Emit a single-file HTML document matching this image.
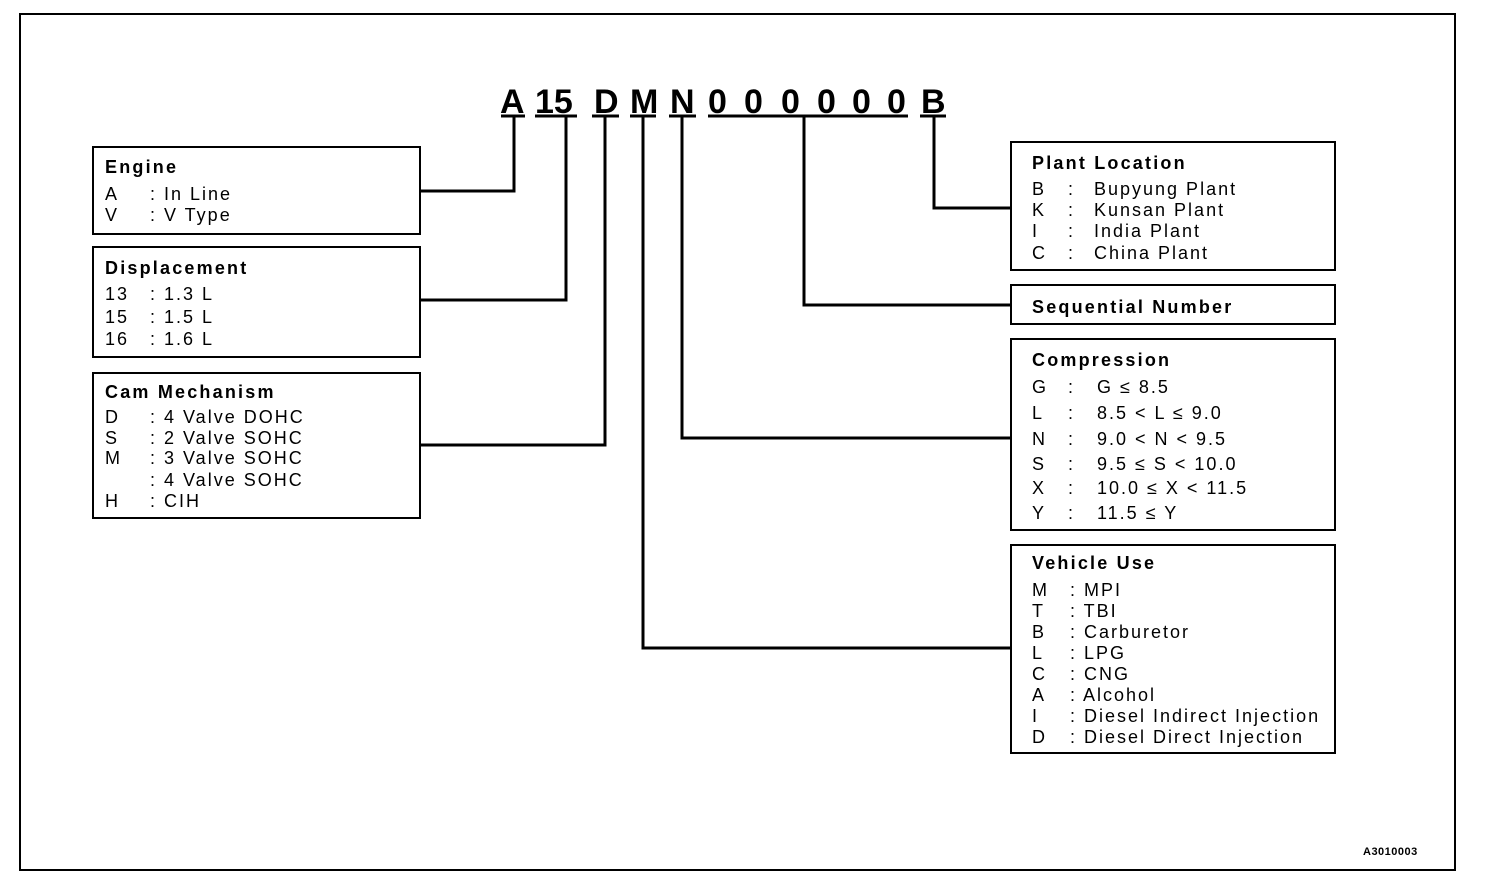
<!DOCTYPE html>
<html><head><meta charset="utf-8"><style>
html,body{margin:0;padding:0;background:#fff;}
svg{display:block}
text{font-family:"Liberation Sans",Arial,sans-serif;font-size:18px;letter-spacing:2px;fill:#000;}
.t{font-weight:bold;letter-spacing:2.2px}
.c{font-weight:bold;font-size:34px;letter-spacing:0}
</style></head><body>
<svg width="1504" height="896" viewBox="0 0 1504 896" xmlns="http://www.w3.org/2000/svg">
<rect x="20" y="14" width="1435" height="856" fill="none" stroke="#000" stroke-width="2"/>
<!-- code -->
<g class="cc">
<text class="c" x="500" y="113">A</text>
<text class="c" x="535" y="113">15</text>
<text class="c" x="594" y="113">D</text>
<text class="c" x="630" y="113">M</text>
<text class="c" x="670" y="113">N</text>
<text class="c" x="708" y="113">0</text>
<text class="c" x="744" y="113">0</text>
<text class="c" x="781" y="113">0</text>
<text class="c" x="817" y="113">0</text>
<text class="c" x="852" y="113">0</text>
<text class="c" x="887" y="113">0</text>
<text class="c" x="921" y="113">B</text>
</g>
<g stroke="#000" stroke-width="3" fill="none">
<line x1="501" y1="116" x2="525" y2="116"/>
<line x1="535" y1="116" x2="577" y2="116"/>
<line x1="592" y1="116" x2="619" y2="116"/>
<line x1="630" y1="116" x2="656" y2="116"/>
<line x1="669" y1="116" x2="696" y2="116"/>
<line x1="708" y1="116" x2="908" y2="116"/>
<line x1="920" y1="116" x2="946" y2="116"/>
<!-- connectors -->
<polyline points="420,191 514,191 514,116"/>
<polyline points="420,300 566,300 566,116"/>
<polyline points="420,445 605,445 605,116"/>
<polyline points="643,116 643,648 1011,648"/>
<polyline points="682,116 682,438 1011,438"/>
<polyline points="804,116 804,305 1011,305"/>
<polyline points="934,116 934,208 1011,208"/>
</g>
<g stroke="#000" stroke-width="2" fill="none">
<rect x="93" y="147" width="327" height="87"/>
<rect x="93" y="247" width="327" height="110"/>
<rect x="93" y="373" width="327" height="145"/>
<rect x="1011" y="142" width="324" height="128"/>
<rect x="1011" y="285" width="324" height="39"/>
<rect x="1011" y="339" width="324" height="191"/>
<rect x="1011" y="545" width="324" height="208"/>
</g>
<!-- Engine -->
<text class="t" x="105" y="173">Engine</text>
<text x="105" y="200">A</text><text x="150" y="200">: In Line</text>
<text x="105" y="221">V</text><text x="150" y="221">: V Type</text>
<!-- Displacement -->
<text class="t" x="105" y="274">Displacement</text>
<text x="105" y="300">13</text><text x="150" y="300">: 1.3 L</text>
<text x="105" y="323">15</text><text x="150" y="323">: 1.5 L</text>
<text x="105" y="345">16</text><text x="150" y="345">: 1.6 L</text>
<!-- Cam -->
<text class="t" x="105" y="398">Cam Mechanism</text>
<text x="105" y="423">D</text><text x="150" y="423">: 4 Valve DOHC</text>
<text x="105" y="444">S</text><text x="150" y="444">: 2 Valve SOHC</text>
<text x="105" y="464">M</text><text x="150" y="464">: 3 Valve SOHC</text>
<text x="150" y="486">: 4 Valve SOHC</text>
<text x="105" y="507">H</text><text x="150" y="507">: CIH</text>
<!-- Plant -->
<text class="t" x="1032" y="169">Plant Location</text>
<text x="1032" y="195">B</text><text x="1068" y="195">:</text><text x="1094" y="195">Bupyung Plant</text>
<text x="1032" y="216">K</text><text x="1068" y="216">:</text><text x="1094" y="216">Kunsan Plant</text>
<text x="1032" y="237">I</text><text x="1068" y="237">:</text><text x="1094" y="237">India Plant</text>
<text x="1032" y="259">C</text><text x="1068" y="259">:</text><text x="1094" y="259">China Plant</text>
<!-- Seq -->
<text class="t" x="1032" y="313">Sequential Number</text>
<!-- Compression -->
<text class="t" x="1032" y="366">Compression</text>
<text x="1032" y="393">G</text><text x="1068" y="393">:</text><text x="1097" y="393">G ≤ 8.5</text>
<text x="1032" y="419">L</text><text x="1068" y="419">:</text><text x="1097" y="419">8.5 &lt; L ≤ 9.0</text>
<text x="1032" y="445">N</text><text x="1068" y="445">:</text><text x="1097" y="445">9.0 &lt; N &lt; 9.5</text>
<text x="1032" y="470">S</text><text x="1068" y="470">:</text><text x="1097" y="470">9.5 ≤ S &lt; 10.0</text>
<text x="1032" y="494">X</text><text x="1068" y="494">:</text><text x="1097" y="494">10.0 ≤ X &lt; 11.5</text>
<text x="1032" y="519">Y</text><text x="1068" y="519">:</text><text x="1097" y="519">11.5 ≤ Y</text>
<!-- Vehicle -->
<text class="t" x="1032" y="569">Vehicle Use</text>
<text x="1032" y="596">M</text><text x="1070" y="596">: MPI</text>
<text x="1032" y="617">T</text><text x="1070" y="617">: TBI</text>
<text x="1032" y="638">B</text><text x="1070" y="638">: Carburetor</text>
<text x="1032" y="659">L</text><text x="1070" y="659">: LPG</text>
<text x="1032" y="680">C</text><text x="1070" y="680">: CNG</text>
<text x="1032" y="701">A</text><text x="1070" y="701">: Alcohol</text>
<text x="1032" y="722">I</text><text x="1070" y="722">: Diesel Indirect Injection</text>
<text x="1032" y="743">D</text><text x="1070" y="743">: Diesel Direct Injection</text>
<text x="1363" y="855" style="font-size:11px;font-weight:bold;letter-spacing:0.5px">A3010003</text>
</svg>
</body></html>
